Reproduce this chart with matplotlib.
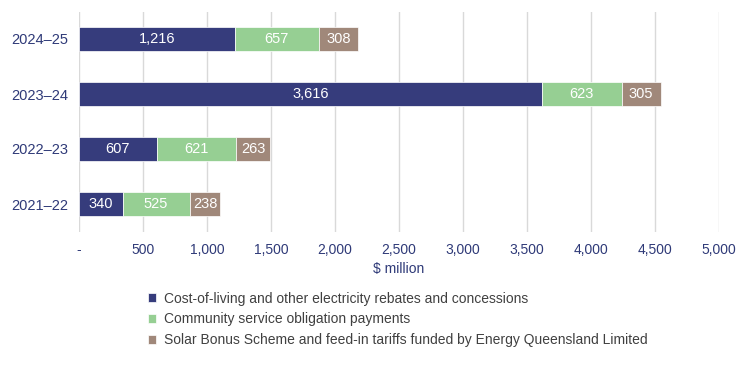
import matplotlib.pyplot as plt
import numpy as np

years = ["2021–22", "2022–23", "2023–24", "2024–25"]
rebates = [340, 607, 3616, 1216]
cso = [525, 621, 623, 657]
solar = [238, 263, 305, 308]

series_names = [
    "Cost-of-living and other electricity rebates and concessions",
    "Community service obligation payments",
    "Solar Bonus Scheme and feed-in tariffs funded by Energy Queensland Limited",
]
colors = ["#363C7C", "#96CF93", "#A0887A"]
tick_color = "#2F3A78"

plt.rcParams["font.family"] = ["Liberation Sans", "DejaVu Sans"]

fig = plt.figure(figsize=(7.5, 3.69), dpi=100)
ax = fig.add_axes([79 / 750, 1 - 231.5 / 369, 640 / 750, 220 / 369])

y = np.arange(len(years))
left = np.zeros(len(years))
for vals, col, name in zip([rebates, cso, solar], colors, series_names):
    bars = ax.barh(y, vals, left=left, height=0.42, color=col, label=name,
                   edgecolor="white", linewidth=0.5, zorder=3)
    for b, v in zip(bars, vals):
        ax.text(b.get_x() + b.get_width() / 2, b.get_y() + b.get_height() / 2,
                f"{v:,}", ha="center", va="center", color="white",
                fontsize=10.5, zorder=4)
    left += np.array(vals)

ax.set_xlim(0, 5000)
ax.set_ylim(-0.5, 3.5)
ax.set_yticks(y)
ax.set_yticklabels(years)
ticks = np.arange(0, 5001, 500)
ax.set_xticks(ticks)
ax.set_xticklabels(["-"] + [f"{t:,}" for t in ticks[1:]])
ax.tick_params(axis="both", length=0, labelsize=10, colors=tick_color)
ax.tick_params(axis="x", pad=8)
ax.tick_params(axis="y", pad=8, labelsize=10.5)
ax.xaxis.grid(True, color="#D9D9D9", linewidth=1, zorder=0)
for s in ax.spines.values():
    s.set_visible(False)
ax.set_xlabel("$ million", fontsize=10, color=tick_color, labelpad=4)

handles, labels = ax.get_legend_handles_labels()
fig.legend(handles, labels, loc="upper left", bbox_to_anchor=(135 / 750, 1 - 279 / 369),
           frameon=False, fontsize=10, handlelength=0.6, handleheight=0.6,
           handletextpad=0.6, labelspacing=0.5, labelcolor="#404040")

fig.savefig("out.png", dpi=100)
